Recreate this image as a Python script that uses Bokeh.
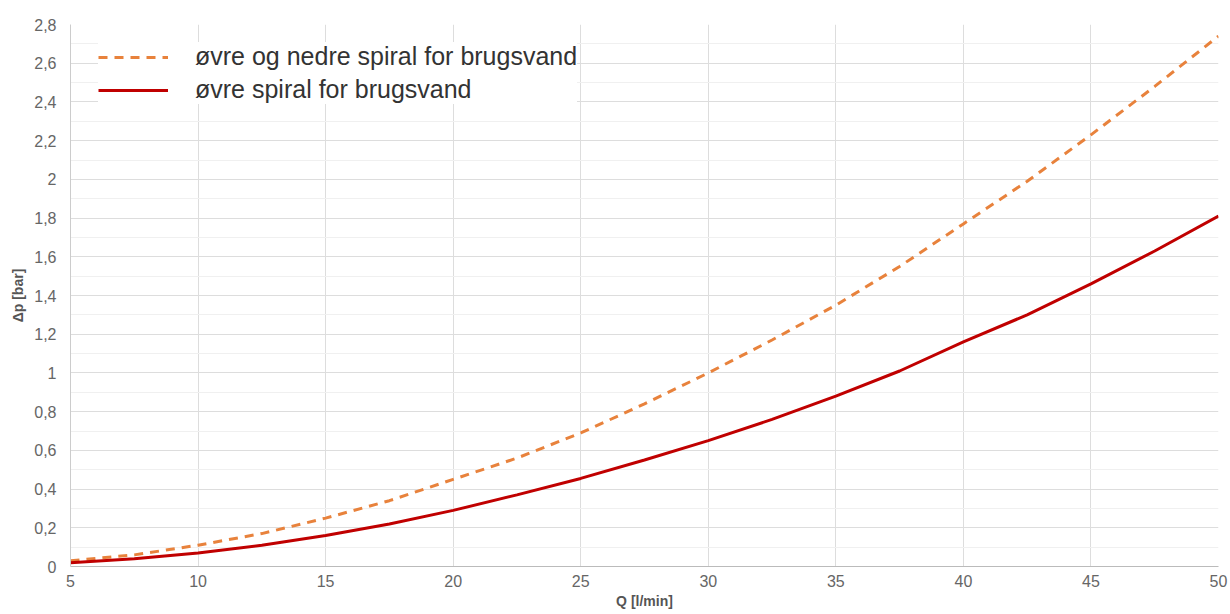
from bokeh.plotting import figure
from bokeh.models import Range1d, FixedTicker, Legend, LegendItem
from bokeh.embed import file_html
from bokeh.resources import INLINE

q = [5, 7.5, 10, 12.5, 15, 17.5, 20, 22.5, 25, 27.5, 30, 32.5, 35, 37.5, 40, 42.5, 45, 47.5, 50]
dp_both = [0.03, 0.06, 0.11, 0.17, 0.25, 0.34, 0.45, 0.56, 0.69, 0.84, 1.0, 1.17, 1.35, 1.55, 1.77, 1.99, 2.23, 2.48, 2.74]
dp_upper = [0.02, 0.04, 0.07, 0.11, 0.16, 0.22, 0.29, 0.37, 0.455, 0.55, 0.65, 0.76, 0.88, 1.01, 1.16, 1.30, 1.46, 1.63, 1.81]
label_both = "øvre og nedre spiral for brugsvand"
label_upper = "øvre spiral for brugsvand"
x_ticks = [5, 10, 15, 20, 25, 30, 35, 40, 45, 50]
y_ticks = [0, 0.2, 0.4, 0.6, 0.8, 1.0, 1.2, 1.4, 1.6, 1.8, 2.0, 2.2, 2.4, 2.6, 2.8]
y_labels = ["0", "0,2", "0,4", "0,6", "0,8", "1", "1,2", "1,4", "1,6", "1,8", "2", "2,2", "2,4", "2,6", "2,8"]
y_minor = [0.1, 0.3, 0.5, 0.7, 0.9, 1.1, 1.3, 1.5, 1.7, 1.9, 2.1, 2.3, 2.5, 2.7]

FONT = "Liberation Sans"

p = figure(width=1230, height=614, output_backend="svg", toolbar_location=None,
           x_range=Range1d(5, 50), y_range=Range1d(0, 2.8),
           min_border_left=70, min_border_right=12, min_border_top=24, min_border_bottom=48)
p.outline_line_color = None

p.xaxis.ticker = FixedTicker(ticks=x_ticks)
p.yaxis.ticker = FixedTicker(ticks=y_ticks)
p.yaxis.major_label_overrides = {t: l for t, l in zip(y_ticks, y_labels)}
p.ygrid.ticker = FixedTicker(ticks=y_ticks, minor_ticks=y_minor)

for ax in (p.xaxis, p.yaxis):
    ax.major_tick_line_color = None
    ax.minor_tick_line_color = None
    ax.major_tick_out = 0
    ax.major_tick_in = 0
    ax.minor_tick_out = 0
    ax.major_label_text_font = FONT
    ax.major_label_text_font_size = "16px"
    ax.major_label_text_color = "#666666"
    ax.axis_label_text_font = FONT
    ax.axis_label_text_font_size = "14px"
    ax.axis_label_text_font_style = "bold"
    ax.axis_label_text_color = "#555555"
p.xaxis.axis_line_color = "#bbbbbb"
p.yaxis.axis_line_color = "#cccccc"
p.xaxis.axis_label = "Q [l/min]"
p.yaxis.axis_label = "Δp [bar]"
p.xaxis.major_label_standoff = 8
p.xaxis.axis_label_standoff = 3
p.yaxis.major_label_standoff = 14
p.yaxis.axis_label_standoff = 5

p.xgrid.grid_line_color = "#dddddd"
p.ygrid.grid_line_color = "#dddddd"
p.ygrid.minor_grid_line_color = "#f0f0f0"

r1 = p.line(q, dp_both, line_color="#E8823C", line_width=3, line_dash="9 7")
r2 = p.line(q, dp_upper, line_color="#C00000", line_width=3)

legend = Legend(items=[LegendItem(label=label_both, renderers=[r1]),
                       LegendItem(label=label_upper, renderers=[r2])],
                location=(28, 462), border_line_color=None,
                background_fill_color="white", background_fill_alpha=1.0,
                label_text_font=FONT, label_text_font_size="25px", label_text_color="#333333",
                glyph_width=70, label_standoff=27, spacing=4, padding=12,
                margin=0)
p.add_layout(legend)

open("out.html", "w").write(file_html(p, INLINE))
